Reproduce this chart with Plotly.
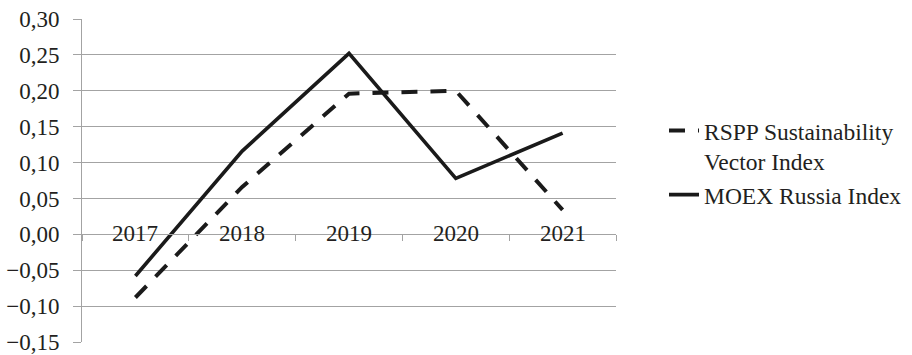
import plotly.graph_objects as go

years = ["2017", "2018", "2019", "2020", "2021"]
rspp = [-0.088, 0.066, 0.196, 0.200, 0.034]
moex = [-0.058, 0.116, 0.252, 0.078, 0.141]
rspp_name = "RSPP Sustainability<br>Vector Index"
moex_name = "MOEX Russia Index"
y_ticks = [-0.15, -0.10, -0.05, 0.00, 0.05, 0.10, 0.15, 0.20, 0.25, 0.30]

FONT = "Liberation Serif"
TXT = "#231f20"
GRID = "#a3a3a3"

idx = list(range(len(years)))
bounds = [i - 0.5 for i in range(len(years) + 1)]
y_min, y_max = y_ticks[0], y_ticks[-1]

fig = go.Figure()
fig.add_trace(go.Scatter(x=idx, y=rspp, mode="lines", name=rspp_name,
                         line=dict(color="#1a1a1a", width=4, dash="16px,13px")))
fig.add_trace(go.Scatter(x=idx, y=moex, mode="lines", name=moex_name,
                         line=dict(color="#1a1a1a", width=3.6)))

for i, yr in zip(idx, years):
    fig.add_annotation(x=i, y=0, xref="x", yref="y", text=yr, showarrow=False,
                       yanchor="middle", xanchor="center", yshift=1,
                       font=dict(family=FONT, size=23, color=TXT))

fig.update_layout(
    width=912, height=355,
    margin=dict(l=82, r=296, t=19, b=13, autoexpand=False),
    paper_bgcolor="white", plot_bgcolor="white",
    separators=", ",
    font=dict(family=FONT, size=23, color=TXT),
    showlegend=True,
    legend=dict(x=1.0 + (664 - 616) / 534, xanchor="left", y=0.722, yanchor="top",
                valign="top", bgcolor="rgba(0,0,0,0)",
                font=dict(family=FONT, size=23.5, color=TXT)),
    xaxis=dict(range=[bounds[0], bounds[-1]], automargin=False,
               anchor="free", position=(0 - y_min) / (y_max - y_min),
               tickmode="array", tickvals=bounds, ticks="outside", ticklen=6,
               tickcolor=GRID, tickwidth=1, showticklabels=False, showgrid=False,
               showline=True, linecolor=GRID, linewidth=1, zeroline=False),
    yaxis=dict(range=[y_min - 1e-6, y_max + 1e-6], tickmode="array", tickvals=y_ticks,
               tickformat=".2f", ticklabeloverflow="allow", automargin=False,
               ticklabelstandoff=9,
               showgrid=True, gridcolor=GRID, gridwidth=1,
               zeroline=False, showline=True, linecolor=GRID, linewidth=1,
               ticks="outside", ticklen=8, tickcolor=GRID, tickwidth=1,
               tickfont=dict(family=FONT, size=23, color=TXT)),
)

fig.write_html("out.html")
